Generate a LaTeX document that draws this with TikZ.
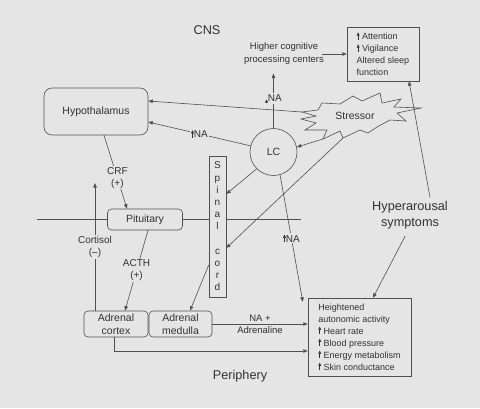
\documentclass[tikz,border=0pt]{standalone}
\usepackage{fontspec}
\setmainfont{Liberation Sans}
\usetikzlibrary{arrows.meta}
\definecolor{bgc}{RGB}{229,229,229}
\definecolor{ln}{RGB}{80,80,80}
\definecolor{tx}{RGB}{50,50,50}
\newcommand{\fs}[2]{\fontsize{#1}{#2}\selectfont}
\newcommand{\upar}{\tikz[baseline=0pt, x=1pt, y=1pt] \draw [line width=0.5pt, -{Triangle[length=3.2pt,width=2.8pt]}] (0,0) -- (0,7.5);}

\begin{document}
\begin{tikzpicture}[x=1pt, y=-1pt, color=ln, text=tx, line width=0.6pt,
    >={Triangle[length=4.5pt,width=3.5pt]},
    box/.style={draw, fill=bgc, rounded corners=4pt, inner sep=1pt, align=center, font=\fs{10.5}{13}},
    sq/.style={draw, fill=bgc, inner sep=0pt, align=left, font=\fs{9}{12}},
    lbl/.style={fill=bgc, inner sep=1pt, align=center, font=\fs{10}{12}},
    big/.style={align=center, font=\fs{12.7}{16}}]

    \fill [bgc] (0,0) rectangle (480,408);
    \useasboundingbox (0,0) rectangle (480,408);

    % CNS / periphery border
    \coordinate (l1) at (37,219);
    \coordinate (l2) at (301,219);
    \draw (l1) -- (l2);

    % stressor burst
    \draw [fill=bgc, line join=miter] (322,103) -- (340,104) -- (353,96) -- (362,101) -- (380,93)
        -- (382,103) -- (401,99) -- (394,107) -- (421,108) -- (397,113) -- (406,121) -- (390,120)
        -- (377,127) -- (368,133) -- (360,130) -- (343,138) -- (340,131) -- (323,139) -- (327,130)
        -- (305,130) -- (316,123) -- (301,119) -- (316,116) -- (302,112) -- (318,110) -- cycle;
    \coordinate (s1) at (302,112);
    \coordinate (s2) at (323,139);
    \coordinate (s3) at (343,138);

    \node (cns) at (207,30) [big] {CNS};
    \node (per) at (240,376) [big] {Periphery};
    \node (str) at (355,116) [font=\fs{10.5}{12}] {Stressor};
    \node (hcp) at (284,54) [align=center, font=\fs{9.5}{13}] {Higher cognitive\\processing centers};
    \node (att) at (383,54) [sq, minimum width=72pt, minimum height=54pt] {\upar\ Attention\\\upar\ Vigilance\\Altered sleep\\function};
    \node (hyp) at (96,111.5) [box, rounded corners=8pt, minimum width=104pt, minimum height=47pt] {Hypothalamus};
    \node (lc) at (273.5,152) [circle, draw, fill=bgc, minimum size=47pt, font=\fs{10.5}{12}] {LC};
    \node (sc) at (217.5,226.5) [draw, fill=bgc, minimum width=17pt, minimum height=141pt, inner sep=0pt,
        align=center, font=\fs{10}{12.2}] {S\\p\\i\\n\\a\\l\\[12.2pt]c\\o\\r\\d};
    \node (pit) at (145,219.5) [box, minimum width=75pt, minimum height=21pt] {Pituitary};
    \node (cx) at (116,324) [box, minimum width=64pt, minimum height=26pt] {Adrenal\\cortex};
    \node (md) at (180.5,324) [box, minimum width=63pt, minimum height=26pt] {Adrenal\\medulla};
    \node (aut) at (359.5,337) [sq, minimum width=103pt, minimum height=78pt] {Heightened\\autonomic activity\\\upar\ Heart rate\\\upar\ Blood pressure\\\upar\ Energy metabolism\\\upar\ Skin conductance};
    \node (hyper) at (410,215) [big] {Hyperarousal\\symptoms};
    \coordinate (cort) at (95,183);

    \draw [->] ([xshift=-6pt]hcp.east) to (att);
    \draw [->, shorten >=5pt] (lc.north) to node [lbl] {\upar NA} (lc.north |- hcp.south);
    \draw [->] (s1) to ([yshift=10.5pt]hyp.east);
    \draw [->] (lc.165) to node [lbl] {\upar NA} ([yshift=-10.5pt]hyp.east);
    \draw [->] (s2) to (lc.12);
    \draw [->] (lc.225) to ([yshift=32.5pt]sc.east);
    \draw [->] (s3) to ([yshift=-21.5pt]sc.east);
    \draw [->] (lc.-74) to node [lbl] {\upar NA} ([shift={(-5pt,-4pt)}]aut.north west);
    \draw [->] ([xshift=8pt]hyp.south) to node [lbl, pos=0.58] {CRF\\(+)} ([xshift=-18pt]pit.north);
    \draw [->] ([xshift=-21pt]cx.north) to node [lbl] {Cortisol\\(–)} (cort);
    \draw [->] ([xshift=3pt]pit.south) to node [lbl] {ACTH\\(+)} ([xshift=9pt]cx.north);
    \draw [->] ([yshift=-38.5pt]sc.west) to ([xshift=9.5pt]md.north);
    \draw [->] (md.east) to node [align=center, font=\fs{9.5}{12}] {NA +\\Adrenaline} ([yshift=13pt]aut.west);
    \draw [->] ([xshift=-2pt]cx.south) |- ([yshift=-14pt]aut.west);
    \draw [->] ([xshift=20pt]hyper.north) to ([xshift=26pt]att.south);
    \draw [->, shorten <=4pt] ([xshift=-3pt]hyper.south) to ([xshift=13.5pt]aut.north);

\end{tikzpicture}
\end{document}
